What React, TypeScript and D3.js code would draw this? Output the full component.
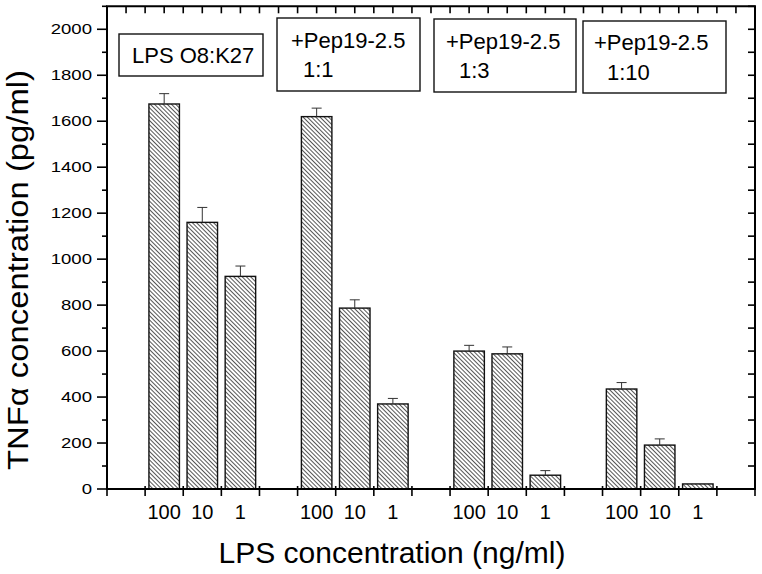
import React from 'react';
import * as d3 from 'd3';

const boxLines: string[][] = [
  ['LPS O8:K27'],
  ['+Pep19-2.5', '1:1'],
  ['+Pep19-2.5', '1:3'],
  ['+Pep19-2.5', '1:10'],
];
const doseLabels = ['100', '10', '1', '100', '10', '1', '100', '10', '1', '100', '10', '1'];
const barPositions = [1.5, 2.5, 3.5, 5.5, 6.5, 7.5, 9.5, 10.5, 11.5, 13.5, 14.5, 15.5];
const tnfValues = [1675, 1160, 925, 1620, 787, 370, 600, 588, 60, 435, 191, 22];
const tnfErrors = [45, 65, 45, 37, 36, 24, 25, 30, 20, 28, 27, 0];
const yMajorTicks = [0, 200, 400, 600, 800, 1000, 1200, 1400, 1600, 1800, 2000];
const xTitle = 'LPS concentration (ng/ml)';
const yTitle = 'TNFα concentration (pg/ml)';

const W = 762;
const H = 574;
const FONT = 'Liberation Sans, Arial, Helvetica, sans-serif';

// box layouts [x, y, w, h, [ [tx, baseline], ... ]]
const boxLayout: [number, number, number, number, [number, number][]][] = [
  [119, 34, 144, 42, [[132, 63]]],
  [277, 18, 143, 73, [[291, 48], [303, 77]]],
  [434, 19, 142, 73, [[446, 49], [459, 78]]],
  [583, 21, 143, 72, [[594, 50], [607, 80]]],
];

export default function App() {
  const x = d3.scaleLinear().domain([0, 17]).range([107, 755]);
  const y = d3.scaleLinear().domain([0, 2100]).range([489, 6.3]);
  const barW = (x(0.8) - x(0));
  const x0 = x(0), x1 = x(17), y0 = y(0), y1 = y(2100);
  const xIntTicks = d3.range(0, 18);
  const xHalfTicks = d3.range(0, 17.01, 0.5);
  const yAllTicks = d3.range(0, 2101, 100);

  return (
    <svg width={W} height={H} style={{ position: 'absolute', left: 0, top: 0, background: '#fff' }}
      fontFamily={FONT}>
      <defs>
        <pattern id="hatch" width="8" height="3" patternUnits="userSpaceOnUse" patternTransform="rotate(45)">
          <rect width="8" height="3" fill="#fff" />
          <line x1="0" y1="0.5" x2="8" y2="0.5" stroke="#444" strokeWidth="0.9" />
        </pattern>
      </defs>
      <rect x={0} y={0} width={W} height={H} fill="#fff" />

      {/* bars */}
      {tnfValues.map((v, i) => {
        const cx = x(barPositions[i]);
        const top = y(v);
        return (
          <g key={'b' + i}>
            <rect x={cx - barW / 2} y={top} width={barW} height={y0 - top}
              fill="url(#hatch)" stroke="#111" strokeWidth={1.4} />
            {tnfErrors[i] > 0 && (
              <g stroke="#333" strokeWidth={1}>
                <line x1={cx} x2={cx} y1={top} y2={y(v + tnfErrors[i])} />
                <line x1={cx - 5} x2={cx + 5} y1={y(v + tnfErrors[i])} y2={y(v + tnfErrors[i])} />
              </g>
            )}
          </g>
        );
      })}

      {/* axes frame */}
      <g stroke="#000" strokeWidth={2} fill="none">
        <line x1={x0} x2={x0} y1={y1} y2={y0 + 1} />
        <line x1={x0 - 1} x2={x1 + 1} y1={y0} y2={y0} />
        <line x1={x0 - 1} x2={x1 + 1} y1={y1} y2={y1} />
        <line x1={x1} x2={x1} y1={y1} y2={y0 + 1} />
      </g>

      {/* ticks */}
      <g stroke="#000" strokeWidth={1.6}>
        {yAllTicks.map((t) => (
          <line key={'yl' + t} x1={x0} x2={x0 - (t % 200 === 0 ? 10 : 5)} y1={y(t)} y2={y(t)} />
        ))}
        {yAllTicks.map((t) => (
          <line key={'yr' + t} x1={x1} x2={x1 - 7} y1={y(t)} y2={y(t)} />
        ))}
        {xIntTicks.map((t) => (
          <line key={'xb' + t} x1={x(t)} x2={x(t)} y1={y0 - 3} y2={y0 + 7} />
        ))}
        {xHalfTicks.map((t) => (
          <line key={'xt' + t} x1={x(t)} x2={x(t)} y1={y1} y2={y1 + 7} />
        ))}
      </g>

      {/* y tick labels */}
      {yMajorTicks.map((t) => (
        <g key={'yt' + t} transform={`translate(${x0 - 15},${y(t) + 5}) scale(1.28,1)`}>
          <text x={0} y={0} textAnchor="end" fontSize={14.5} fill="#000">{t}</text>
        </g>
      ))}

      {/* x tick labels */}
      {doseLabels.map((lab, i) => (
        <text key={'xl' + i} x={x(barPositions[i])} y={519} textAnchor="middle" fontSize={20} fill="#000">{lab}</text>
      ))}

      {/* titles */}
      <text x={392} y={563} textAnchor="middle" fontSize={30} fill="#000">{xTitle}</text>
      <text transform="translate(28,270) rotate(-90)" textAnchor="middle" fontSize={30} fill="#000"
        textLength={400} lengthAdjust="spacingAndGlyphs">{yTitle}</text>

      {/* annotation boxes */}
      {boxLayout.map(([bx, by, bw, bh, pos], i) => (
        <g key={'box' + i}>
          <rect x={bx} y={by} width={bw} height={bh} fill="#fff" stroke="#111" strokeWidth={1.4} />
          {boxLines[i].map((ln, j) => (
            <text key={j} x={pos[j][0]} y={pos[j][1]} fontSize={22} fill="#000">{ln}</text>
          ))}
        </g>
      ))}
    </svg>
  );
}
